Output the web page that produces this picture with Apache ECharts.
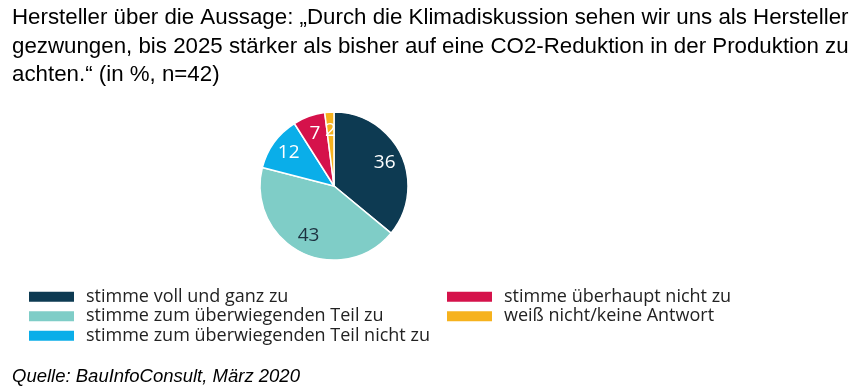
<!DOCTYPE html>
<html><head><meta charset="utf-8">
<script src="https://cdn.jsdelivr.net/npm/echarts@6/dist/echarts.min.js"></script>
<style>html,body{margin:0;padding:0;background:#fff}#c{width:858px;height:390px}</style>
</head><body><div id="c"></div>
<script>
const categories = ["stimme voll und ganz zu","stimme zum überwiegenden Teil zu","stimme zum überwiegenden Teil nicht zu","stimme überhaupt nicht zu","weiß nicht/keine Antwort"];
const values = [36, 43, 12, 7, 2];
const colors = ["#0d3a52","#7fcdc7","#0aaee9","#d5124b","#f6b21d"];
const labelColors = ["#ffffff","#1d3140","#ffffff","#ffffff","#ffffff"];
const titleText = "Hersteller über die Aussage: „Durch die Klimadiskussion sehen wir uns als Hersteller\ngezwungen, bis 2025 stärker als bisher auf eine CO2-Reduktion in der Produktion zu\nachten.“ (in %, n=42)";
const sourceText = "Quelle: BauInfoConsult, März 2020";

const chart = echarts.init(document.getElementById('c'));
const pieData = categories.map((n,i)=>({name:n,value:values[i],itemStyle:{color:colors[i]}}));
const labelData = categories.map((n,i)=>({name:n,value:values[i],label:{color:labelColors[i]}}));
const legendFont = {fontFamily:"Open Sans",fontSize:18,color:"#222",lineHeight:19.5,padding:[0,0,0,6]};
chart.setOption({
  animation:false,
  title:[
    {text:titleText,left:12,top:4,padding:0,textStyle:{fontFamily:"Liberation Sans",fontSize:22.3,fontWeight:"normal",color:"#000",lineHeight:28.5}},
    {text:sourceText,left:12,top:367,padding:0,textStyle:{fontFamily:"Liberation Sans",fontSize:18.5,fontStyle:"italic",fontWeight:"normal",color:"#000"}}
  ],
  legend:[
    {orient:"vertical",left:27,top:287,padding:0,itemWidth:47,itemHeight:12,itemGap:0,icon:"rect",data:categories.slice(0,3),textStyle:legendFont,selectedMode:false},
    {orient:"vertical",left:445,top:287,padding:0,itemWidth:47,itemHeight:12,itemGap:0,icon:"rect",data:categories.slice(3),textStyle:legendFont,selectedMode:false}
  ],
  series:[
    {type:"pie",center:[334,186],radius:[0,74],startAngle:90,clockwise:true,data:pieData,
     itemStyle:{borderColor:"#fff",borderWidth:1.5},label:{show:false},labelLine:{show:false},silent:true},
    {type:"pie",center:[334,186],radius:[34,72],startAngle:90,clockwise:true,data:labelData,
     itemStyle:{color:"rgba(0,0,0,0)"},legendHoverLink:false,silent:true,
     label:{show:true,position:"inside",formatter:"{c}",fontFamily:"Open Sans",fontSize:19}}
  ]
});
</script></body></html>
